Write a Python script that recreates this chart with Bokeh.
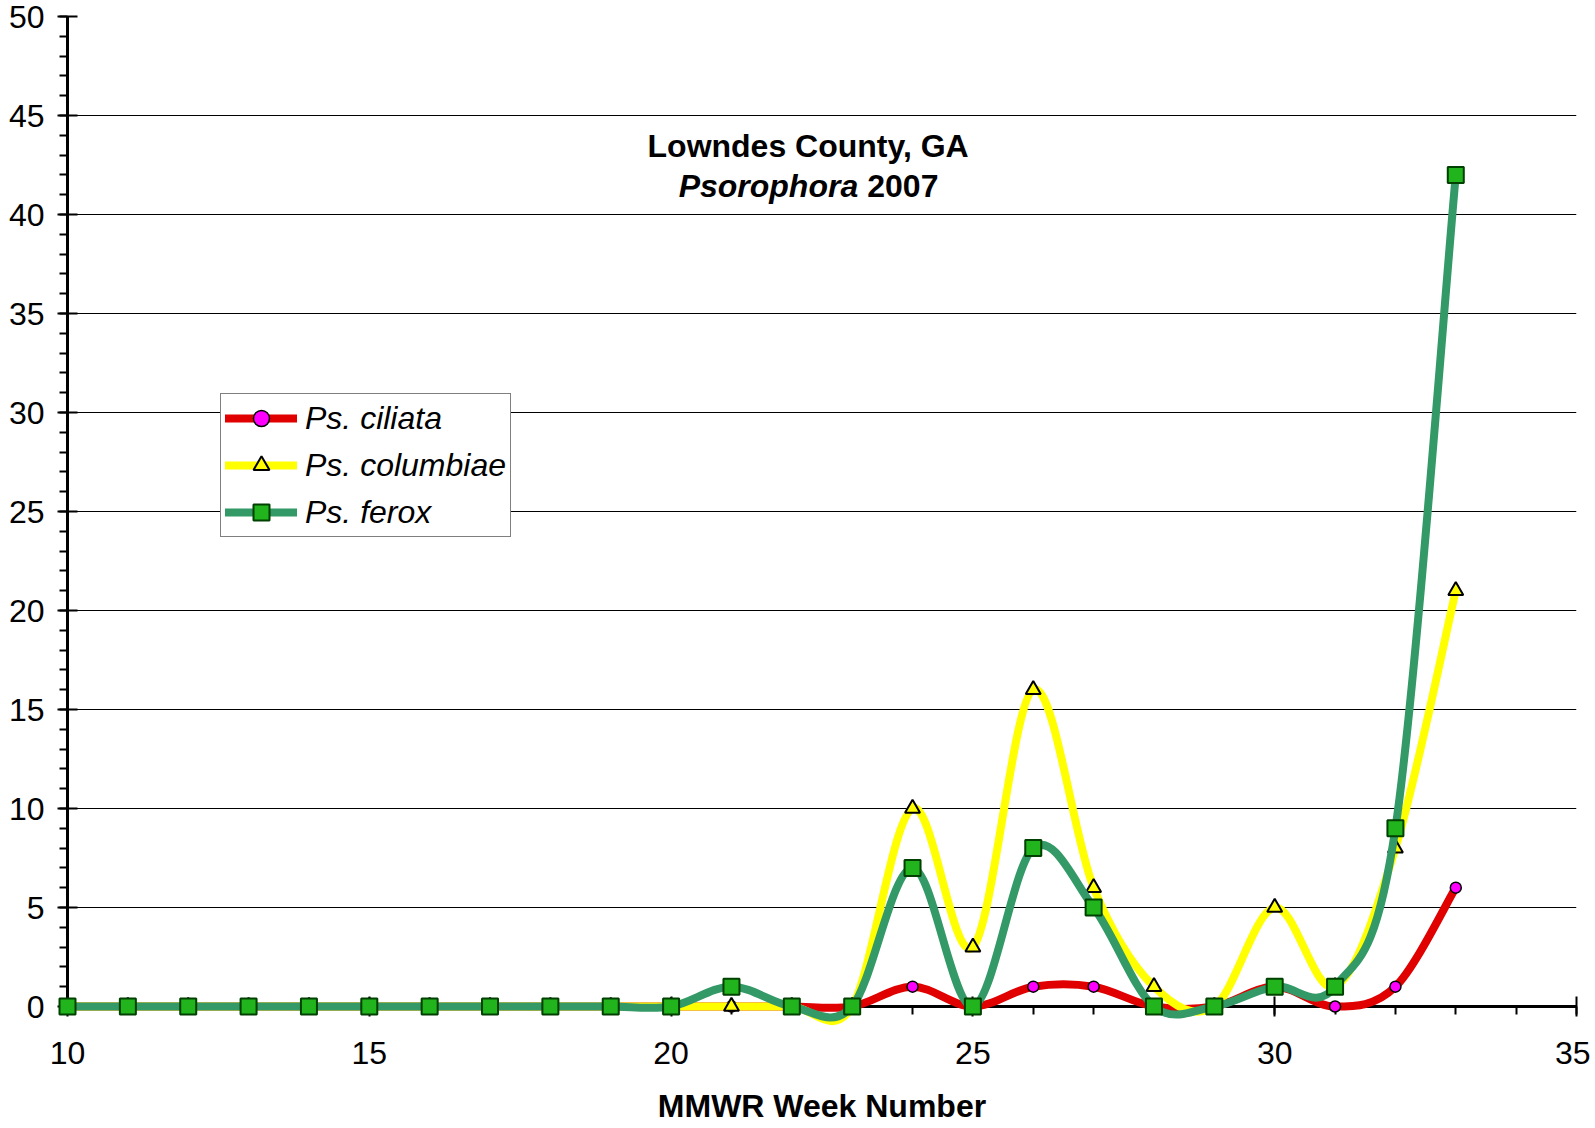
import numpy as np
from bokeh.plotting import figure
from bokeh.models import Legend, LegendItem, Label, Range1d, FixedTicker
from bokeh.core.properties import value
from bokeh.embed import file_html
from bokeh.resources import INLINE

# ---------------- data ----------------
weeks = [10, 11, 12, 13, 14, 15, 16, 17, 18, 19, 20, 21,
         22, 23, 24, 25, 26, 27, 28, 29, 30, 31, 32, 33]
ciliata = [0, 0, 0, 0, 0, 0, 0, 0, 0, 0, 0, 0,
           0, 0, 1, 0, 1, 1, 0, 0, 1, 0, 1, 6]
columbiae = [0, 0, 0, 0, 0, 0, 0, 0, 0, 0, 0, 0,
             0, 0, 10, 3, 16, 6, 1, 0, 5, 1, 8, 21]
ferox = [0, 0, 0, 0, 0, 0, 0, 0, 0, 0, 0, 1,
         0, 0, 7, 0, 8, 5, 0, 0, 1, 1, 9, 42]
series_names = ["Ps. ciliata", "Ps. columbiae", "Ps. ferox"]
x_ticks = [10, 15, 20, 25, 30, 35]
x_minor = [10, 11, 12, 13, 14, 15, 16, 17, 18, 19, 20, 21, 22, 23, 24, 25,
           26, 27, 28, 29, 30, 31, 32, 33, 34, 35]
y_ticks = [0, 5, 10, 15, 20, 25, 30, 35, 40, 45, 50]
y_minor = list(range(0, 51))
title_line1 = "Lowndes County, GA"
title_line2a = "Psorophora"
title_line2b = "2007"
x_title = "MMWR Week Number"

FONT = "Liberation Sans"


def smooth_segments(xs, ys):
    """Bezier segments of a smoothed (Catmull-Rom style) line through the points."""
    x = np.asarray(xs, float)
    y = np.asarray(ys, float)
    n = len(x)
    i = np.arange(n - 1)
    prev = np.clip(i - 1, 0, n - 1)
    nxt = np.clip(i + 2, 0, n - 1)
    return dict(
        x0=x[i], y0=y[i], x1=x[i + 1], y1=y[i + 1],
        cx0=x[i] + (x[i + 1] - x[prev]) / 6.0,
        cy0=y[i] + (y[i + 1] - y[prev]) / 6.0,
        cx1=x[i + 1] - (x[nxt] - x[i]) / 6.0,
        cy1=y[i + 1] - (y[nxt] - y[i]) / 6.0,
    )


p = figure(width=1590, height=1124,
           x_range=Range1d(10, 35), y_range=Range1d(0, 50),
           output_backend="svg", toolbar_location=None,
           min_border_left=67, min_border_right=14,
           min_border_top=16, min_border_bottom=118)
p.outline_line_color = None
p.background_fill_color = "white"
p.border_fill_color = "white"

# grid
p.xgrid.visible = False
p.ygrid.ticker = FixedTicker(ticks=y_ticks)
p.ygrid.grid_line_color = "black"
p.ygrid.grid_line_width = 1

# axes
p.xaxis.ticker = FixedTicker(ticks=x_ticks, minor_ticks=x_minor)
p.yaxis.ticker = FixedTicker(ticks=y_ticks, minor_ticks=y_minor)
for ax in (p.xaxis[0], p.yaxis[0]):
    ax.axis_line_width = 3
    ax.axis_line_color = "black"
    ax.major_tick_line_width = 2
    ax.minor_tick_line_width = 2
    ax.major_tick_line_color = "black"
    ax.minor_tick_line_color = "black"
    ax.major_tick_in = 10
    ax.major_tick_out = 10
    ax.minor_tick_in = 0
    ax.minor_tick_out = 8
    ax.major_label_text_font = FONT
    ax.major_label_text_font_size = "32px"
    ax.major_label_text_color = "black"
p.yaxis.major_label_standoff = 13
p.xaxis.major_label_standoff = 25

styles = [
    dict(line="#E00000", marker="circle", fill="#FF00FF", mline="black", size=11, mlw=1.5),
    dict(line="#FFFF00", marker="triangle", fill="#FFFF00", mline="black", size=15, mlw=2),
    dict(line="#339966", marker="square", fill="#22B41C", mline="#004000", size=16, mlw=2),
]
items = []
for name, ys, st in zip(series_names, [ciliata, columbiae, ferox], styles):
    seg = smooth_segments(weeks, ys)
    r_line = p.bezier(x0=seg["x0"], y0=seg["y0"], x1=seg["x1"], y1=seg["y1"],
                      cx0=seg["cx0"], cy0=seg["cy0"], cx1=seg["cx1"], cy1=seg["cy1"],
                      line_color=st["line"], line_width=8, line_cap="round",
                      level="annotation")
    r_mark = p.scatter(weeks, ys, marker=st["marker"], size=st["size"],
                       fill_color=st["fill"], line_color=st["mline"],
                       line_width=st["mlw"], level="annotation")
    items.append(LegendItem(label=name, renderers=[r_line, r_mark]))

legend = Legend(items=items, location=(153, 469))
legend.label_text_font = FONT
legend.label_text_font_size = "32px"
legend.label_text_font_style = "italic"
legend.label_text_color = "black"
legend.glyph_width = 72
legend.glyph_height = 40
legend.label_height = 40
legend.label_standoff = 8
legend.spacing = 7
legend.padding = 4
legend.margin = 0
legend.border_line_color = "black"
legend.border_line_width = 1
legend.background_fill_color = "white"
legend.background_fill_alpha = 1
p.add_layout(legend, "center")

# title inside the plot area
p.add_layout(Label(x=22.27, y=43.45, text=title_line1, text_align="center",
                   text_baseline="middle", text_font=FONT, text_font_size="32px",
                   text_font_style="bold", text_color="black"))
p.add_layout(Label(x=23.10, y=41.45, text=title_line2a, text_align="right",
                   text_baseline="middle", text_font=FONT, text_font_size="32px",
                   text_font_style="bold italic", text_color="black"))
p.add_layout(Label(x=23.25, y=41.45, text=title_line2b, text_align="left",
                   text_baseline="middle", text_font=FONT, text_font_size="32px",
                   text_font_style="bold", text_color="black"))

# x-axis title, placed under the tick labels (unclipped text glyph)
p.text(x=[22.5], y=[-5.0], text=[x_title], text_align="center",
       text_baseline="middle", text_font=value(FONT), text_font_size="32px",
       text_font_style="bold", text_color="black", level="annotation")

open("out.html", "w").write(file_html(p, INLINE))
